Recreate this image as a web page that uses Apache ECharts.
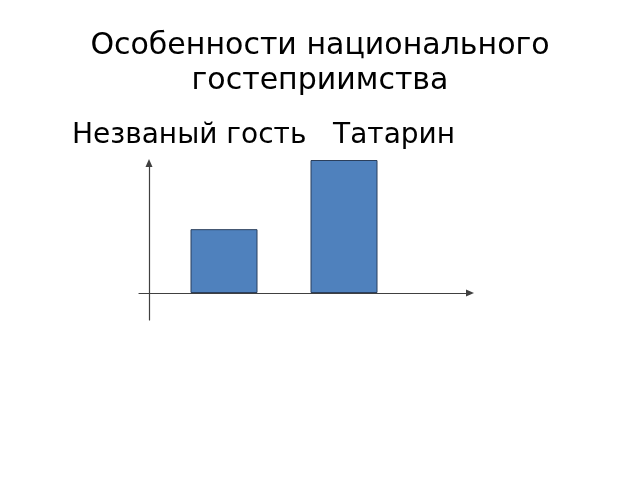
<!DOCTYPE html>
<html>
<head>
<meta charset="utf-8">
<script src="https://cdn.jsdelivr.net/npm/echarts@6/dist/echarts.min.js"></script>
<style>
html,body{margin:0;padding:0;background:#fff;}
#main{width:640px;height:480px;}
</style>
</head>
<body>
<div id="main"></div>
<script>
var titleText = 'Особенности национального\nгостеприимства';
var categories = ['Незваный гость', 'Татарин'];
var values = [48, 100];

var chart = echarts.init(document.getElementById('main'));
var font = 'DejaVu Sans';
var axisColor = '#404040';
chart.setOption({
  animation: false,
  backgroundColor: '#ffffff',
  title: [
    {
      text: titleText,
      left: 320,
      top: 29,
      padding: 0,
      textAlign: 'center',
      textStyle: {fontFamily: font, fontSize: 30, fontWeight: 'normal', color: '#000', lineHeight: 35}
    },
    {
      text: categories.join('   '),
      left: 72,
      top: 122,
      padding: 0,
      textStyle: {fontFamily: font, fontSize: 28, fontWeight: 'normal', color: '#000', lineHeight: 28}
    }
  ],
  grid: [
    {left: 139, right: 170, top: 163, bottom: 160},
    {left: 164, right: 236, top: 160, bottom: 187}
  ],
  xAxis: [
    {
      type: 'value', gridIndex: 0, min: -10, max: 321,
      axisLine: {show: true, onZero: true, symbol: ['none', 'triangle'], symbolSize: [7, 8], lineStyle: {color: axisColor, width: 1.2}},
      axisTick: {show: false}, axisLabel: {show: false}, splitLine: {show: false}
    },
    {
      type: 'category', gridIndex: 1, data: categories, show: false
    }
  ],
  yAxis: [
    {
      type: 'value', gridIndex: 0, min: -27, max: 130,
      axisLine: {show: true, onZero: true, symbol: ['none', 'triangle'], symbolSize: [7, 8], lineStyle: {color: axisColor, width: 1.2}},
      axisTick: {show: false}, axisLabel: {show: false}, splitLine: {show: false}
    },
    {
      type: 'value', gridIndex: 1, min: 0, max: 100, show: false, splitLine: {show: false}
    }
  ],
  series: [
    {type: 'scatter', xAxisIndex: 0, yAxisIndex: 0, data: [], silent: true},
    {
      type: 'bar', xAxisIndex: 1, yAxisIndex: 1, data: values, barWidth: 67,
      itemStyle: {color: '#4F81BD', borderColor: '#2B3F5C', borderWidth: 1}
    }
  ]
});
</script>
</body>
</html>
